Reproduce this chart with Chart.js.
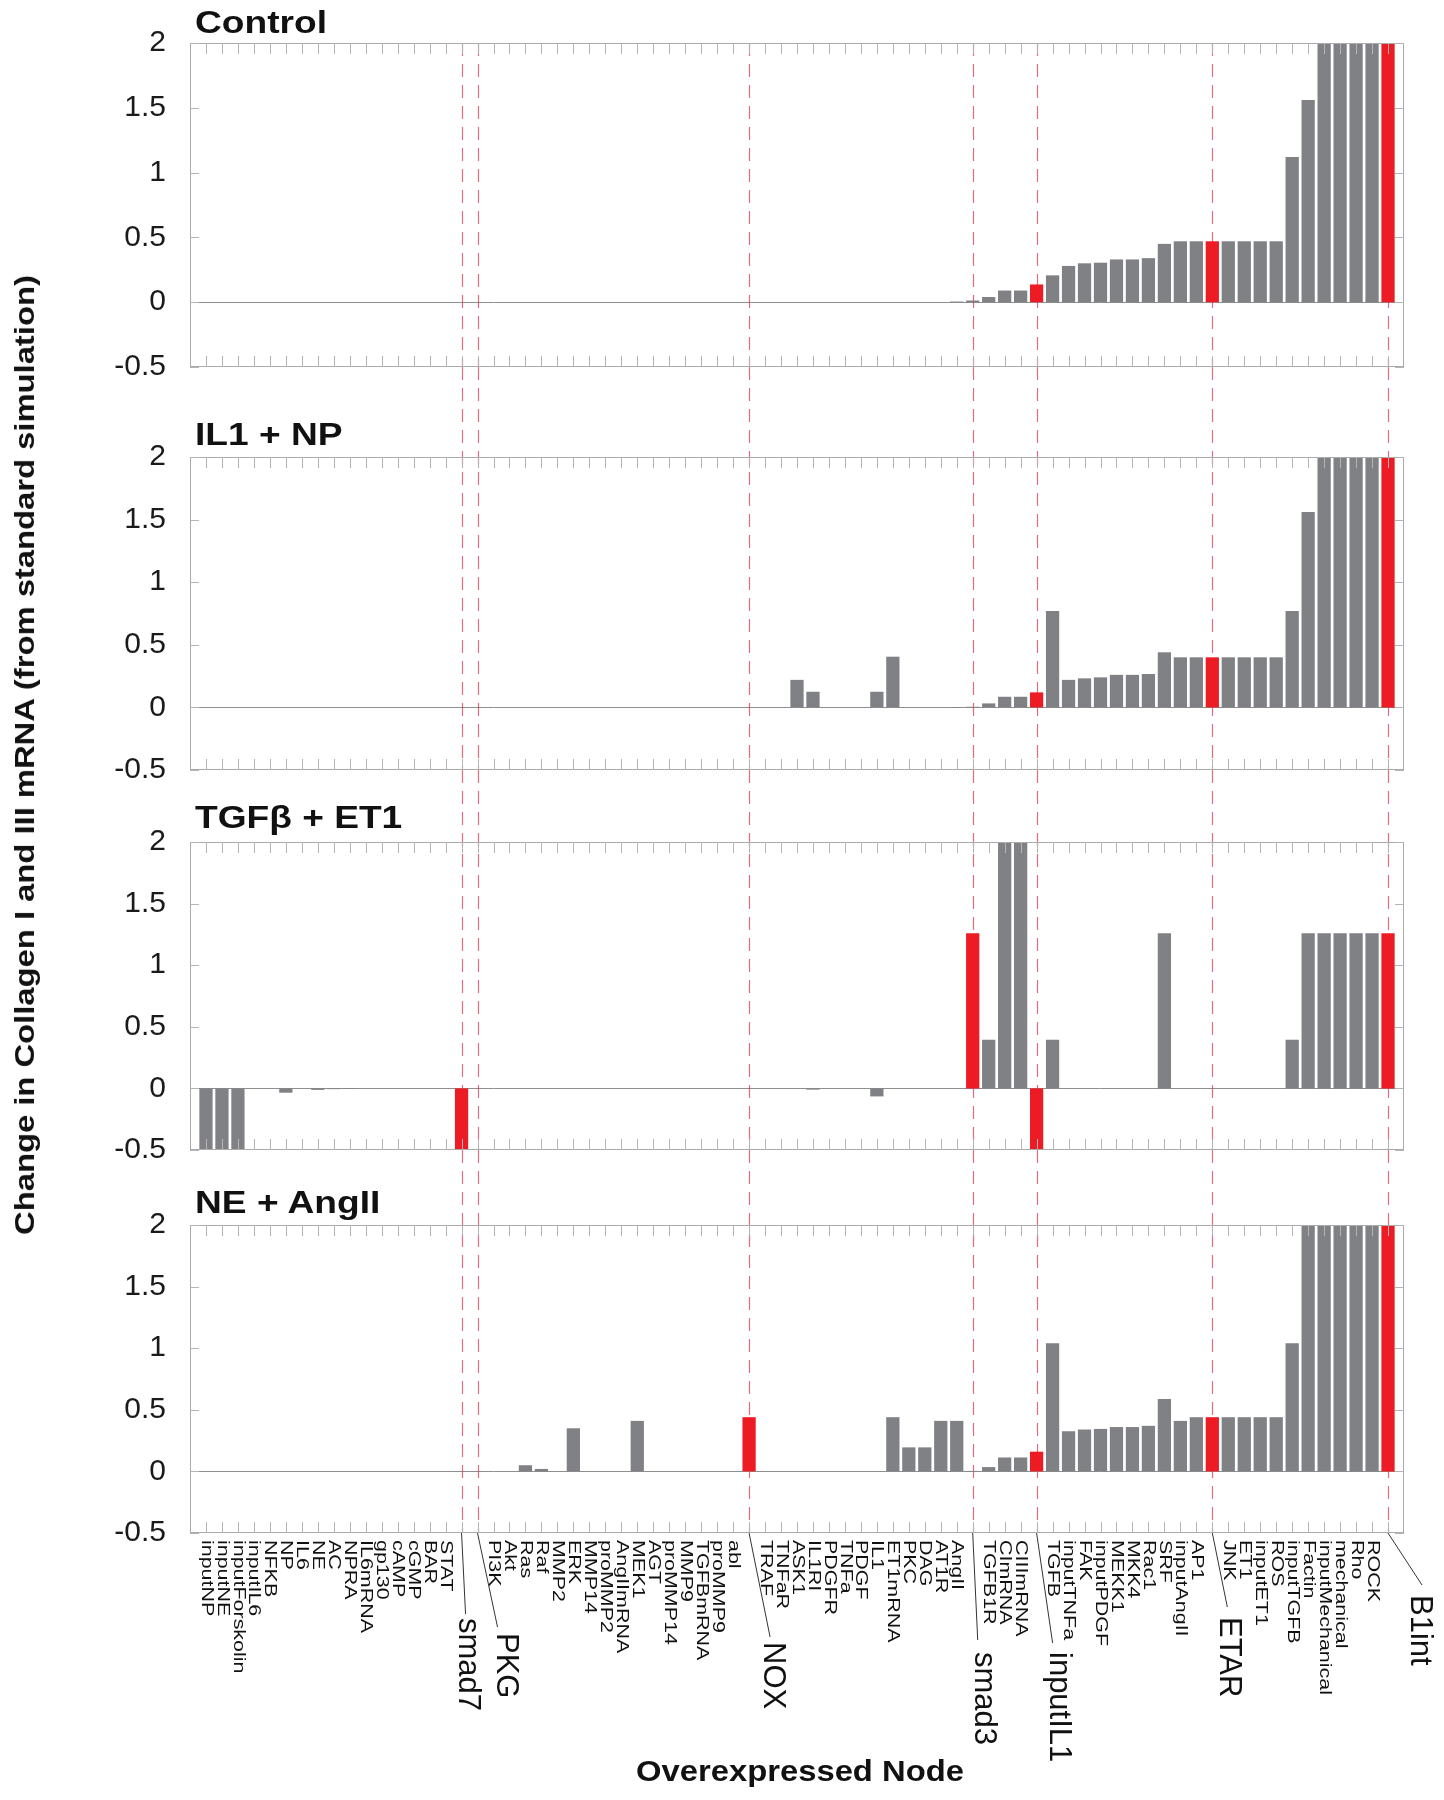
<!DOCTYPE html>
<html><head><meta charset="utf-8">
<script src="https://cdn.jsdelivr.net/npm/chart.js@4.4.1/dist/chart.umd.min.js"></script>
<style>
html,body{margin:0;padding:0;background:#fff;}
#wrap{position:relative;width:1444px;height:1800px;overflow:hidden;background:#fff;}
canvas{position:absolute;left:0;top:0;}
.ptitle{position:absolute;left:195px;font:bold 32px Arial,"Liberation Sans",sans-serif;color:#111;white-space:nowrap;line-height:1;transform:scaleX(1.16);transform-origin:left top;}
#ytitle{position:absolute;left:25px;top:755px;font:bold 28px Arial,"Liberation Sans",sans-serif;color:#111;white-space:nowrap;line-height:1;transform:translate(-50%,-50%) rotate(-90deg) scaleX(1.17);}
#xtitle{position:absolute;left:800px;top:1771px;font:bold 29px Arial,"Liberation Sans",sans-serif;color:#111;white-space:nowrap;line-height:1;transform:translate(-50%,-50%) scaleX(1.13);}
</style></head>
<body><div id="wrap">
<canvas id="c3" width="1444" height="1800"></canvas>
<canvas id="c2" width="1444" height="1800"></canvas>
<canvas id="c1" width="1444" height="1800"></canvas>
<canvas id="c0" width="1444" height="1800"></canvas>
<div class="ptitle" style="top:6px">Control</div>
<div class="ptitle" style="top:418px">IL1 + NP</div>
<div class="ptitle" style="top:801px">TGFβ + ET1</div>
<div class="ptitle" style="top:1186px">NE + AngII</div>
<div id="ytitle">Change in Collagen I and III mRNA (from standard simulation)</div>
<div id="xtitle">Overexpressed Node</div>
</div>
<script>
// ---------------- DATA ----------------
const nodes = ["inputNP","inputNE","inputForskolin","inputIL6","NFKB","NP","IL6","NE","AC","NPRA",
"IL6mRNA","gp130","cAMP","cGMP","BAR","STAT","smad7","PKG","PI3K","Akt",
"Ras","Raf","MMP2","ERK","MMP14","proMMP2","AngIImRNA","MEK1","AGT","proMMP14",
"MMP9","TGFBmRNA","proMMP9","abl","NOX","TRAF","TNFaR","ASK1","IL1RI","PDGFR",
"TNFa","PDGF","IL1","ET1mRNA","PKC","DAG","AT1R","AngII","smad3","TGFB1R",
"CImRNA","CIIImRNA","inputIL1","TGFB","inputTNFa","FAK","inputPDGF","MEKK1","MKK4","Rac1",
"SRF","inputAngII","AP1","ETAR","JNK","ET1","inputET1","ROS","inputTGFB","Factin",
"inputMechanical","mechanical","Rho","ROCK","B1int"];

const controlValues = [0,0,0,0,0,0,0,0,0,0,
0,0,0,0,0,0,0,0,0,0,
0,0,0,0,0,0,0,0,0,0,
0,0,0,0,0,0,0,0,0,0,
0,0,0,0,0,0,0,0.005,0.013,0.04,
0.09,0.09,0.137,0.207,0.28,0.30,0.305,0.33,0.33,0.34,
0.45,0.47,0.47,0.47,0.47,0.47,0.47,0.47,1.12,1.56,
2,2,2,2,2];

const il1npValues = [0,0,0,0,0,0,0,0,0,0,
0,0,0,0,0,0,0,0,0,0,
0,0,0,0,0,0,0,0,0,0,
0,0,0,0,0,0,0,0.22,0.125,0,
0,0,0.125,0.405,0,0,0,0.003,0.005,0.032,
0.085,0.085,0.12,0.77,0.22,0.232,0.24,0.26,0.26,0.267,
0.44,0.40,0.40,0.40,0.40,0.40,0.40,0.40,0.77,1.56,
2,2,2,2,2];

const tgfEt1Values = [-0.5,-0.5,-0.5,0,0,-0.035,0,-0.012,-0.006,-0.004,
0,0,0,0,0,0,-0.5,0,0,0,
0,0,0,0,0,0,0,0,0,0,
0,0,0,0,0,0,0,0,-0.01,0,
0,0,-0.065,0,0,0,0,0,1.26,0.395,
2,2,-0.5,0.395,0,0,0,0,0,0,
1.26,0,0,0,0,0,0,0,0.395,1.26,
1.26,1.26,1.26,1.26,1.26];

const neAngIIValues = [0,0,0,0,0,0,0,0,0,0,
0,0,0,0,0,0,0,0,0,0,
0.05,0.02,0,0.35,0,0,0,0.41,0,0,
0,0,0,0,0.44,0,0,0,0,0,
0,0,0,0.44,0.195,0.195,0.41,0.41,0.004,0.035,
0.113,0.113,0.16,1.04,0.326,0.34,0.345,0.36,0.36,0.37,
0.587,0.41,0.44,0.44,0.44,0.44,0.44,0.44,1.04,2,
2,2,2,2,2];

const controlRed = ["inputIL1","ETAR","B1int"];
const il1npRed   = ["inputIL1","ETAR","B1int"];
const tgfEt1Red  = ["smad7","smad3","inputIL1","B1int"];
const neAngIIRed = ["NOX","inputIL1","ETAR","B1int"];

const highlightNodes = ["smad7","PKG","NOX","smad3","inputIL1","ETAR","B1int"];
const yTicks = [-0.5, 0, 0.5, 1, 1.5, 2];

// ---------------- STYLE / LAYOUT ----------------
const GRAY = '#808185', RED = '#ed1c24';
const FONT = 'Arial, "Liberation Sans", sans-serif';
// callout label layout: [leader dx, leader end y, label dx, label start y]
const callout = {
  smad7:[4,1614,6,1618], PKG:[20,1627,28,1633], NOX:[21,1637,23,1642],
  smad3:[5,1640,11,1652], inputIL1:[16,1643,22,1652], ETAR:[15,1607,16,1617],
  B1int:[34,1585,32,1595]
};
const panels = [
  {id:'c0', values:controlValues, red:controlRed, top:43,  bottom:367,  dashFrom:43},
  {id:'c1', values:il1npValues,   red:il1npRed,   top:457, bottom:770,  dashFrom:367},
  {id:'c2', values:tgfEt1Values,  red:tgfEt1Red,  top:842, bottom:1150, dashFrom:770},
  {id:'c3', values:neAngIIValues, red:neAngIIRed, top:1225,bottom:1533, dashFrom:1150, labels:true}
];

const decor = {
  id:'decor',
  beforeDatasetsDraw(chart, args, o) {
    const {ctx, chartArea:a, scales:{x, y}} = chart;
    ctx.save();
    const y0 = Math.round(y.getPixelForValue(0)) + 0.5;
    ctx.strokeStyle = '#8f8f8f'; ctx.lineWidth = 1;
    ctx.beginPath(); ctx.moveTo(a.left, y0); ctx.lineTo(a.right, y0); ctx.stroke();
    ctx.strokeStyle = 'rgba(215,60,85,0.75)'; ctx.lineWidth = 1.2; ctx.setLineDash([13, 8]);
    highlightNodes.forEach(n => {
      const px = Math.round(x.getPixelForValue(nodes.indexOf(n) + 1)) + 0.5;
      ctx.beginPath(); ctx.moveTo(px, o.dashFrom); ctx.lineTo(px, a.bottom); ctx.stroke();
    });
    ctx.restore();
  },
  afterDatasetsDraw(chart, args, o) {
    const {ctx, chartArea:a, scales:{x, y}} = chart;
    ctx.save();
    ctx.strokeStyle = '#aaaaaa'; ctx.lineWidth = 1;
    ctx.strokeRect(Math.round(a.left)+0.5, Math.round(a.top)+0.5, Math.round(a.width)-1, Math.round(a.height)-1);
    ctx.strokeStyle = '#b4b4b4';
    ctx.beginPath();
    for (let i = 1; i <= nodes.length; i++) {
      const px = Math.round(x.getPixelForValue(i)) + 0.5;
      ctx.moveTo(px, a.top); ctx.lineTo(px, a.top + 11);
      ctx.moveTo(px, a.bottom); ctx.lineTo(px, a.bottom - 11);
    }
    yTicks.forEach(v => {
      const py = Math.round(y.getPixelForValue(v)) + 0.5;
      ctx.moveTo(a.left, py); ctx.lineTo(a.left + 9, py);
      ctx.moveTo(a.right, py); ctx.lineTo(a.right - 9, py);
    });
    ctx.stroke();
    ctx.restore();
  },
  afterDraw(chart, args, o) {
    if (!o.labels) return;
    const {ctx, chartArea:a, scales:{x}} = chart;
    ctx.save();
    ctx.fillStyle = '#111'; ctx.textBaseline = 'middle'; ctx.textAlign = 'left';
    nodes.forEach((n, i) => {
      const px = x.getPixelForValue(i + 1);
      const c = callout[n];
      if (c) {
        ctx.strokeStyle = '#333'; ctx.lineWidth = 1;
        ctx.beginPath(); ctx.moveTo(px, a.bottom); ctx.lineTo(px + c[0], c[1]); ctx.stroke();
        ctx.save();
        ctx.translate(px + c[2], c[3]); ctx.rotate(Math.PI / 2);
        ctx.font = '31px ' + FONT;
        ctx.fillText(n, 0, 0);
        ctx.restore();
      } else {
        ctx.save();
        ctx.translate(px, a.bottom + 7); ctx.rotate(Math.PI / 2); ctx.scale(1.34, 1);
        ctx.font = '16px ' + FONT;
        ctx.fillText(n, 0, 0);
        ctx.restore();
      }
    });
    ctx.restore();
  }
};

panels.forEach(p => {
  new Chart(document.getElementById(p.id), {
    type: 'bar',
    data: {
      datasets: [{
        data: p.values.map((v, i) => ({x: i + 1, y: v})),
        backgroundColor: nodes.map(n => p.red.includes(n) ? RED : GRAY),
        borderWidth: 0,
        barPercentage: 0.83,
        categoryPercentage: 1
      }]
    },
    options: {
      responsive: false, animation: false, devicePixelRatio: 1,
      layout: {padding: {left: 90, right: 40, top: p.top, bottom: 1800 - p.bottom}},
      plugins: {legend: {display: false}, tooltip: {enabled: false},
        decor: {dashFrom: p.dashFrom, labels: !!p.labels}},
      scales: {
        x: {type: 'linear', min: 0, max: 76, offset: false, display: false},
        y: {min: -0.5, max: 2,
            grid: {display: false, drawTicks: false}, border: {display: false},
            ticks: {stepSize: 0.5, padding: 24, color: '#1a1a1a', font: {family: FONT, size: 30},
                    callback: v => String(v)},
            afterFit(s) { s.width = 100; }}
      }
    },
    plugins: [decor]
  });
});
</script>
</body></html>
